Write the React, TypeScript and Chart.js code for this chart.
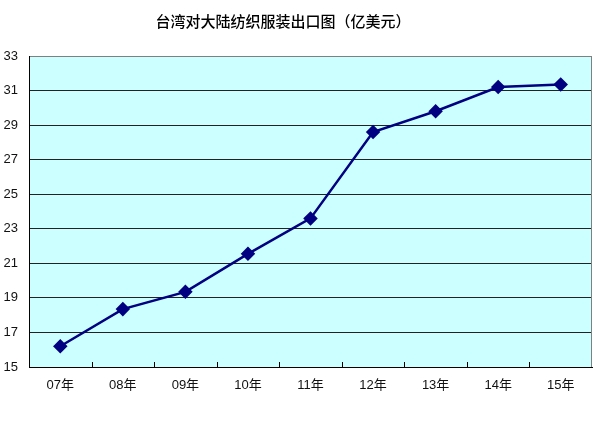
import React, { useEffect, useRef } from "react";
import { Chart, registerables } from "chart.js";

Chart.register(...registerables);

const TITLE = "台湾对大陆纺织服装出口图（亿美元）";
const categories = ["07年", "08年", "09年", "10年", "11年", "12年", "13年", "14年", "15年"];
const exports = [16.2, 18.35, 19.35, 21.55, 23.6, 28.6, 29.8, 31.2, 31.35];
const yMin = 15;
const yMax = 33;
const yStep = 2;

const decor = {
  id: "decor",
  beforeDraw(chart: any) {
    const { ctx, chartArea: a } = chart;
    ctx.save();
    ctx.fillStyle = "#CCFFFF";
    ctx.fillRect(a.left, a.top, a.right - a.left, a.bottom - a.top);
    ctx.restore();
  },
  afterDraw(chart: any) {
    const { ctx, chartArea: a } = chart;
    const xs = chart.scales.x;
    ctx.save();
    ctx.strokeStyle = "#808080";
    ctx.lineWidth = 1;
    ctx.beginPath();
    ctx.moveTo(a.right - 0.5, a.top);
    ctx.lineTo(a.right - 0.5, a.bottom);
    ctx.stroke();
    ctx.strokeStyle = "#000";
    const n = categories.length;
    for (let i = 1; i < n; i++) {
      const x = Math.round((xs.getPixelForTick(i - 1) + xs.getPixelForTick(i)) / 2) + 0.5;
      ctx.beginPath();
      ctx.moveTo(x, a.bottom);
      ctx.lineTo(x, a.bottom - 5);
      ctx.stroke();
    }
    ctx.fillStyle = "#000";
    ctx.font = "500 15px 'Noto Sans CJK SC', sans-serif";
    ctx.textAlign = "center";
    ctx.textBaseline = "middle";
    ctx.fillText(TITLE, 283, 21);
    ctx.restore();
  },
};

export default function App() {
  const ref = useRef<HTMLCanvasElement | null>(null);
  useEffect(() => {
    const chart = new Chart(ref.current!, {
      type: "line",
      data: {
        labels: categories,
        datasets: [
          {
            data: exports,
            borderColor: "#000080",
            backgroundColor: "#000080",
            borderWidth: 2.5,
            pointStyle: "rectRot",
            pointRadius: 5.5,
            pointBackgroundColor: "#000080",
            pointBorderColor: "#000080",
            tension: 0,
          },
        ],
      },
      options: {
        animation: false,
        responsive: false,
        devicePixelRatio: 1,
        layout: { padding: { top: 56, right: 5, left: 0, bottom: 0 } },
        plugins: { legend: { display: false }, title: { display: false }, tooltip: { enabled: false } },
        scales: {
          x: {
            type: "category",
            offset: true,
            grid: { display: true, drawOnChartArea: false, drawTicks: false, offset: true },
            border: { color: "#000", width: 1 },
            ticks: {
              color: "#111",
              padding: 11,
              font: { family: "'Liberation Sans', 'Noto Sans CJK SC', sans-serif", size: 13 },
              maxRotation: 0,
            },
            afterFit(s: any) {
              s.height = 59;
            },
          },
          y: {
            min: yMin,
            max: yMax,
            grid: {
              color: (c: any) => (c.tick && c.tick.value === yMax ? "#808080" : "#222"),
              drawTicks: false,
              lineWidth: 1,
            },
            border: { color: "#000", width: 1 },
            ticks: {
              stepSize: yStep,
              color: "#111",
              padding: 11,
              font: { family: "'Liberation Sans', sans-serif", size: 13 },
            },
            afterFit(s: any) {
              s.width = 29;
            },
          },
        },
      },
      plugins: [decor],
    } as any);
    return () => chart.destroy();
  }, []);
  return (
    <div style={{ position: "absolute", left: 0, top: 0, width: 600, height: 426, background: "#fff" }}>
      <canvas ref={ref} width={600} height={426} />
    </div>
  );
}
